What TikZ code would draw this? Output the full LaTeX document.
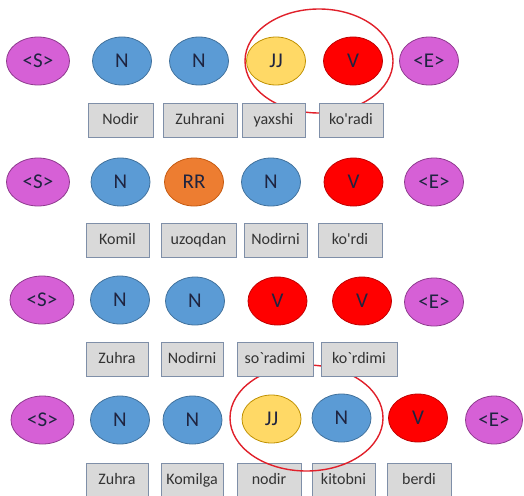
\documentclass[tikz,border=0pt]{standalone}
\usepackage{fontspec}
\setmainfont[Mapping={}]{Carlito}
\usetikzlibrary{shapes.geometric}
\definecolor{nblue}{HTML}{5B9BD5}
\definecolor{nblueb}{HTML}{41719C}
\definecolor{jjyel}{HTML}{FFD966}
\definecolor{jjyelb}{HTML}{BF9000}
\definecolor{vred}{HTML}{FF0000}
\definecolor{vredb}{HTML}{C00000}
\definecolor{rrorg}{HTML}{ED7D31}
\definecolor{rrorgb}{HTML}{C55A11}
\definecolor{smag}{HTML}{D660D6}
\definecolor{smagb}{HTML}{8E3A8E}
\definecolor{tnavy}{HTML}{1F2440}
\definecolor{boxfill}{HTML}{D9D9D9}
\definecolor{boxline}{HTML}{7F8FA8}
\definecolor{ringred}{HTML}{E0202A}
\tikzset{
  tag/.style={ellipse, minimum width=59pt, minimum height=48pt, inner sep=0pt, line width=0.8pt, text=tnavy, font=\fontsize{21}{23}\selectfont},
  tn/.style={tag, fill=nblue, draw=nblueb},
  tj/.style={tag, fill=jjyel, draw=jjyelb},
  tv/.style={tag, fill=vred, draw=vredb},
  tr/.style={tag, fill=rrorg, draw=rrorgb},
  ts/.style={tag, fill=smag, draw=smagb, minimum width=63pt},
  word/.style={rectangle, fill=boxfill, draw=boxline, line width=1pt, minimum height=34pt, inner sep=0pt, text height=11.5pt, text depth=3.5pt, text=black!80, font=\fontsize{16}{18}\selectfont},
  ring/.style={ellipse, draw=ringred, line width=1.4pt, inner sep=0pt}
}
\newcommand{\apo}{\symbol{39}}
\newcommand{\bkt}{\symbol{96}}
\begin{document}
\begin{tikzpicture}[x=1pt,y=-1pt]
\useasboundingbox (0,0) rectangle (524,495);
% Ring of row 1 (behind the word boxes)
\node[ring, minimum width=148pt, minimum height=104pt] (ra) at (319,61) {};
% Row 1
\node[ts] (a0) at (38,61) {<S>};
\node[tn] (a1) at (122,61) {N};
\node[tn] (a2) at (199,61) {N};
\node[tj] (a3) at (276,61) {JJ};
\node[tv] (a4) at (353,61) {V};
\node[ts, minimum width=59pt] (a5) at (429,61) {<E>};
\node[word, minimum width=65pt] (aw1) at (120.5,120) {Nodir};
\node[word, minimum width=74pt] (aw2) at (200,120) {Zuhrani};
\node[word, minimum width=63pt] (aw3) at (273.5,120) {yaxshi};
\node[word, minimum width=64pt] (aw4) at (351,120) {ko\apo radi};
% Row 2
\node[ts] (b0) at (38,182) {<S>};
\node[tn] (b1) at (120.5,182) {N};
\node[tr] (b2) at (194,182) {RR};
\node[tn] (b3) at (271,182) {N};
\node[tv] (b4) at (353.5,182) {V};
\node[ts, minimum width=59pt] (b5) at (434,182) {<E>};
\node[word, minimum width=63pt] (bw1) at (117.5,240.5) {Komil};
\node[word, minimum width=75pt] (bw2) at (198.5,240.5) {uzoqdan};
\node[word, minimum width=63pt] (bw3) at (275.5,240.5) {Nodirni};
\node[word, minimum width=64pt] (bw4) at (350,240.5) {ko\apo rdi};
% Row 4
\node[ts] (d0) at (42.5,420) {<S>};
\node[tn] (d1) at (120,420) {N};
\node[tn] (d2) at (192.5,420) {N};
\node[tj] (d3) at (271.5,419) {JJ};
\node[tn] (d4) at (341.5,418) {N};
\node[tv] (d5) at (418,418) {V};
\node[ts, minimum width=57pt] (d6) at (494,420) {<E>};
\node[word, minimum width=62pt] (dw1) at (117,480) {Zuhra};
\node[word, minimum width=62pt] (dw2) at (192,480) {Komilga};
\node[word, minimum width=64pt] (dw3) at (269,480) {nodir};
\node[word, minimum width=63pt] (dw4) at (343.5,480) {kitobni};
\node[word, minimum width=64pt] (dw5) at (419,480) {berdi};
% Ring of row 4 (over row 4 boxes, under row 3 boxes)
\node[ring, minimum width=153pt, minimum height=106pt] (rd) at (306.5,418) {};
% Row 3
\node[ts, minimum width=64pt] (c0) at (42,300) {<S>};
\node[tn] (c1) at (120,300) {N};
\node[tn] (c2) at (195,301) {N};
\node[tv] (c3) at (277.5,301) {V};
\node[tv] (c4) at (362,301) {V};
\node[ts, minimum width=59pt] (c5) at (434,302) {<E>};
\node[word, minimum width=62pt] (cw1) at (117,359.5) {Zuhra};
\node[word, minimum width=62pt] (cw2) at (192,359.5) {Nodirni};
\node[word, minimum width=76pt] (cw3) at (275,359.5) {so\bkt radimi};
\node[word, minimum width=76pt] (cw4) at (359,359.5) {ko\bkt rdimi};
\end{tikzpicture}
\end{document}
